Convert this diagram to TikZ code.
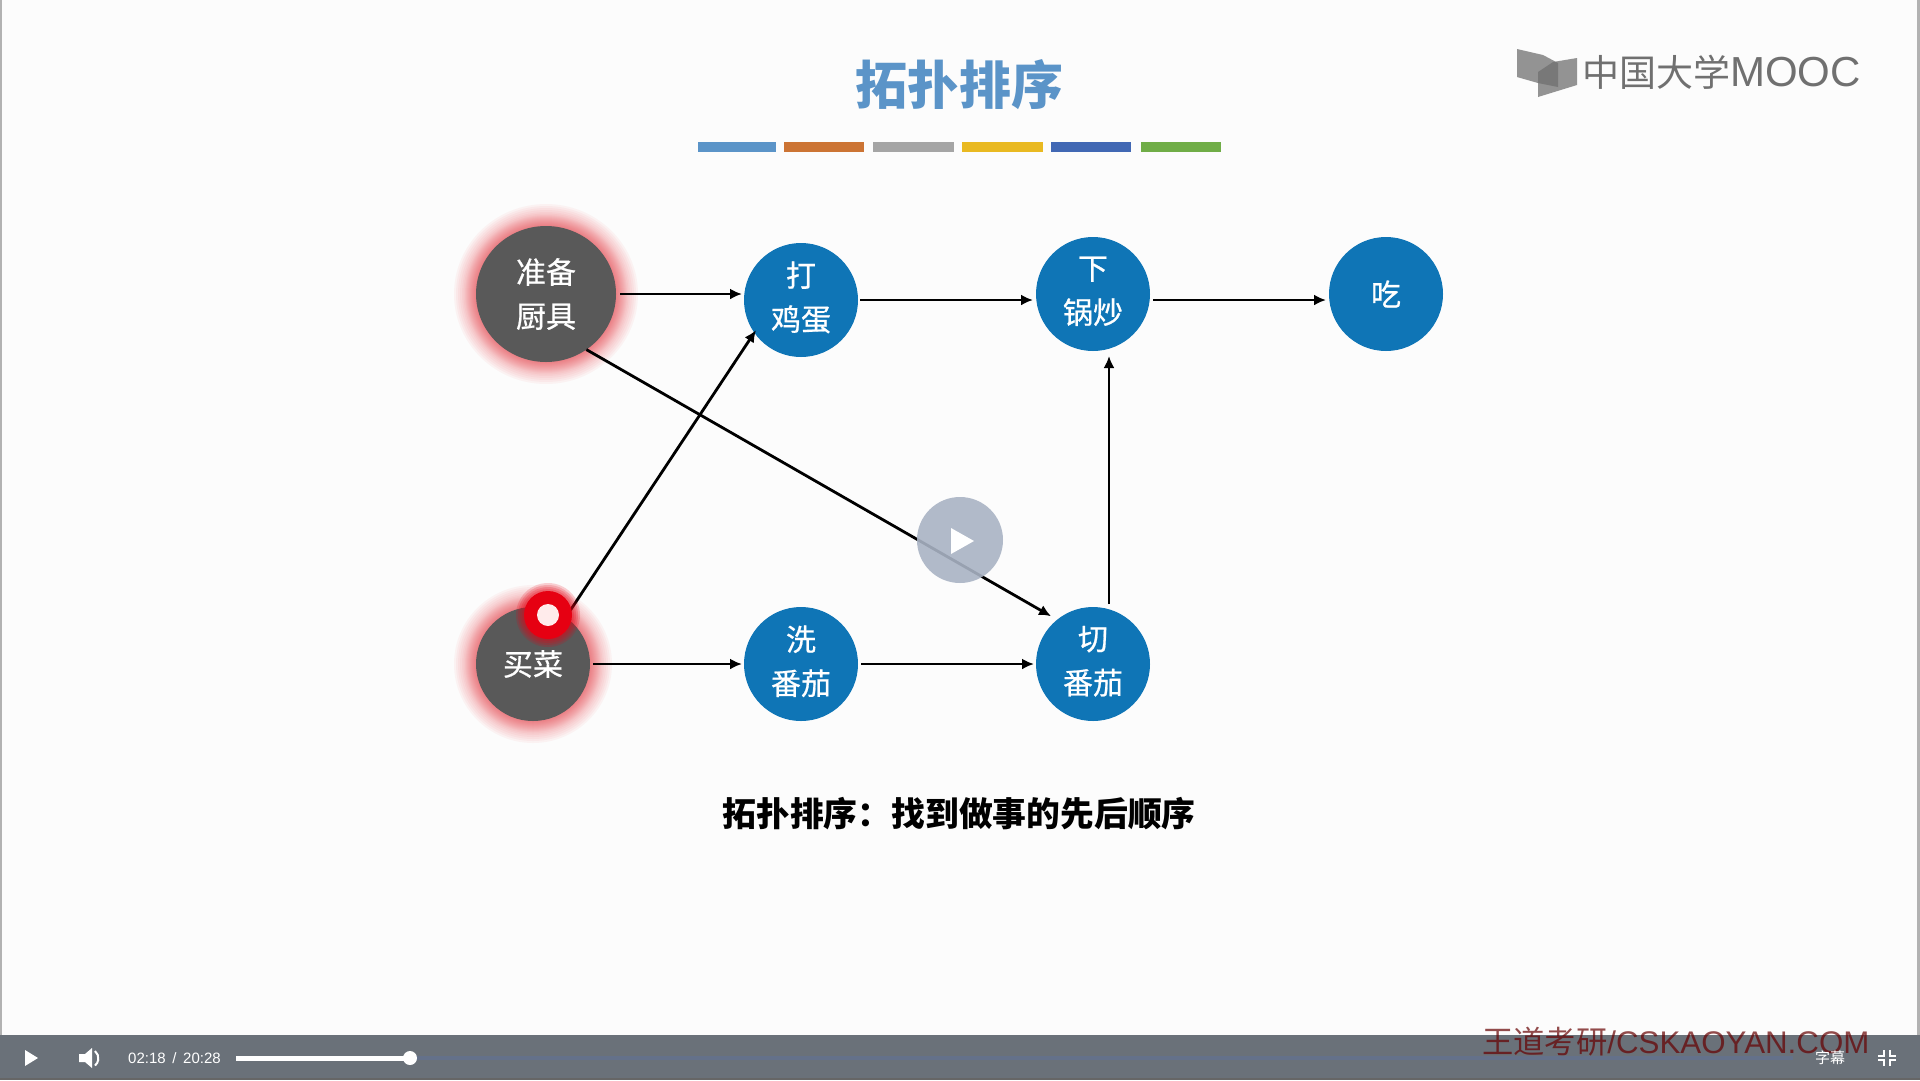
\documentclass[tikz,border=0pt]{standalone}
\usepackage{fontspec}
\setmainfont{Noto Sans CJK SC}
\newfontfamily\latinfont{Liberation Sans}
\newfontfamily\nodefont[FakeBold=0.7]{Noto Sans CJK SC}
\usetikzlibrary{arrows.meta,shapes.geometric}
\definecolor{nodeblue}{HTML}{0F75B6}
\definecolor{nodegray}{HTML}{595959}
\definecolor{titleblue}{HTML}{5B94C8}
\definecolor{barbg}{HTML}{6A7179}
\definecolor{barrest}{HTML}{64718A}
\definecolor{glowred}{HTML}{E8202A}
\definecolor{clickred}{HTML}{E60012}
\definecolor{playgray}{HTML}{A9B3C4}
\definecolor{logogray}{HTML}{707070}
\definecolor{barorange}{HTML}{CC7434}
\definecolor{bargray}{HTML}{A5A5A5}
\definecolor{baryellow}{HTML}{E9B921}
\definecolor{barblue}{HTML}{4168B4}
\definecolor{bargreen}{HTML}{70AD47}
\tikzset{
  step node/.style={circle, fill=nodeblue, text=white, minimum size=114pt, inner sep=0pt, outer sep=0pt, align=center, font=\fontsize{30}{44}\selectfont\nodefont},
  start node/.style={step node, fill=nodegray},
  raised text/.style={execute at end node={\rule[-8pt]{0pt}{8pt}}},
  edge line/.style={line width=2.8pt, -{Latex[length=12pt,width=11pt]}},
  color bar/.style={minimum height=10pt, inner sep=0pt, outer sep=0pt, anchor=west},
  bar text/.style={text=white, inner sep=0pt, font=\fontsize{15}{18}\selectfont\latinfont},
}
\begin{document}
\begin{tikzpicture}[x=1pt, y=-1pt]
    \useasboundingbox (0,0) rectangle (1920,1080);
    \fill[white!99!black] (0,0) rectangle (1920,1080);
    \fill[gray!60] (0,0) rectangle (2,1035);
    \fill[gray!60] (1917,0) rectangle (1920,1035);
    % Titolo
    \node[text=titleblue, font=\fontsize{52}{60}\selectfont\bfseries] (title) at (959,85) {拓扑排序};
    \node[color bar, fill=titleblue, minimum width=78pt] (bara) at (698,147) {};
    \node[color bar, fill=barorange, minimum width=80pt] (barb) at (784,147) {};
    \node[color bar, fill=bargray, minimum width=81pt] (barc) at (873,147) {};
    \node[color bar, fill=baryellow, minimum width=81pt] (bard) at (962,147) {};
    \node[color bar, fill=barblue, minimum width=80pt] (bare) at (1051,147) {};
    \node[color bar, fill=bargreen, minimum width=80pt] (barf) at (1141,147) {};
    % Logo
    \fill[logogray, opacity=.75] (1517,49) -- (1543,55) -- (1558,63) -- (1558,87) -- (1538,83) -- (1517,77) -- cycle;
    \fill[logogray, opacity=.75] (1538,72) -- (1553,62) -- (1577,58) -- (1577,85) -- (1538,97) -- cycle;
    \node[text=logogray, anchor=west, inner sep=0pt, font=\fontsize{37}{44}\selectfont] (logo) at (1582,72) {中国大学{\fontsize{42}{44}\selectfont\latinfont MOOC}};
    % Alone rosso
    \foreach \r in {22,20,18,16,14,12.5,11,10,9,8,7,6,5,4,3,2,1} {
        \fill[glowred, opacity=.045] (546,294) ellipse ({70+\r} and {68+\r});
        \fill[glowred, opacity=.045] (533,664) circle ({57+\r});
    }
    % Nodi
    \node[start node, ellipse, minimum width=140pt, minimum height=136pt] (zhunbei) at (546,294) {准备\\厨具};
    \node[start node] (maicai) at (533,664) {买菜};
    \node[step node, raised text] (daji) at (801,300) {打\\鸡蛋};
    \node[step node, raised text] (xiaguo) at (1093,294) {下\\锅炒};
    \node[step node] (chi) at (1386,294) {吃};
    \node[step node, raised text] (xifan) at (801,664) {洗\\番茄};
    \node[step node, raised text] (qiefan) at (1093,664) {切\\番茄};
    % Archi
    \draw[edge line] ([xshift=4pt]zhunbei.east) -- ([xshift=-2pt,yshift=6pt]daji.west);
    \draw[edge line] ([xshift=2pt]daji.east) -- ([xshift=-3pt,yshift=-6pt]xiaguo.west);
    \draw[edge line] ([xshift=3pt,yshift=-6pt]xiaguo.east) -- ([xshift=-3pt,yshift=-6pt]chi.west);
    \draw[edge line] ([xshift=3pt]maicai.east) -- ([xshift=-2pt]xifan.west);
    \draw[edge line] ([xshift=3pt]xifan.east) -- ([xshift=-2pt]qiefan.west);
    \draw[edge line] ([xshift=16pt,yshift=3pt]qiefan.north) -- ([xshift=16pt,yshift=-5pt]xiaguo.south);
    \draw[edge line, shorten >=7pt] (zhunbei.-54) -- (qiefan.129.5);
    \draw[edge line, shorten >=-3pt] (maicai.55) -- (daji.215);
    % Didascalia
    \node[font=\fontsize{33.8}{40}\selectfont\bfseries] (caption) at (959,814) {拓扑排序：找到做事的先后顺序};
    % Clic e tasto play
    \foreach \r in {32,30,28,26} {
        \fill[clickred, opacity=.18] (548,615) circle (\r);
    }
    \node[circle, fill=clickred, minimum size=48pt, inner sep=0pt] (click) at (548,615) {};
    \node[circle, fill=white!92!red, minimum size=22pt, inner sep=0pt] (clickdot) at (click) {};
    \node[circle, fill=playgray, opacity=.9, minimum size=86pt, inner sep=0pt] (play) at (960,540) {};
    \fill[white] (951,528) -- (974,541) -- (951,554) -- cycle;
    % Barra video
    \fill[barbg] (0,1035) rectangle (1920,1080);
    \fill[black!60] (0,1078) rectangle (1920,1080);
    \node[text=red!40!black, opacity=.7, anchor=west, inner sep=0pt, font=\fontsize{31.3}{36}\selectfont] (mark) at (1482,1042) {王道考研{\latinfont /CSKAOYAN.COM}};
    \fill[barrest] (410,1056) rectangle (1793,1060);
    \fill[white] (236,1055.5) rectangle (410,1060.5);
    \node[circle, fill=white, minimum size=14pt, inner sep=0pt] (knob) at (410,1058) {};
    \fill[white] (25,1050) -- (38,1058) -- (25,1066) -- cycle;
    \fill[white] (79,1054) -- (85,1054) -- (92,1048) -- (92,1068) -- (85,1062) -- (79,1062) -- cycle;
    \draw[white, line width=2pt] (95,1051) arc[start angle=-50, end angle=50, radius=9.5] ;
    \node[bar text, anchor=west] (timetext) at (128,1058) {02:18\, /\, 20:28};
    \node[bar text, font=\fontsize{15}{18}\selectfont] (subtitle) at (1830,1058) {字幕};
    \draw[white, line width=2.4pt] (1884,1050) -- (1884,1056) -- (1878,1056);
    \draw[white, line width=2.4pt] (1890,1050) -- (1890,1056) -- (1896,1056);
    \draw[white, line width=2.4pt] (1884,1066) -- (1884,1060) -- (1878,1060);
    \draw[white, line width=2.4pt] (1890,1066) -- (1890,1060) -- (1896,1060);
\end{tikzpicture}
\end{document}
